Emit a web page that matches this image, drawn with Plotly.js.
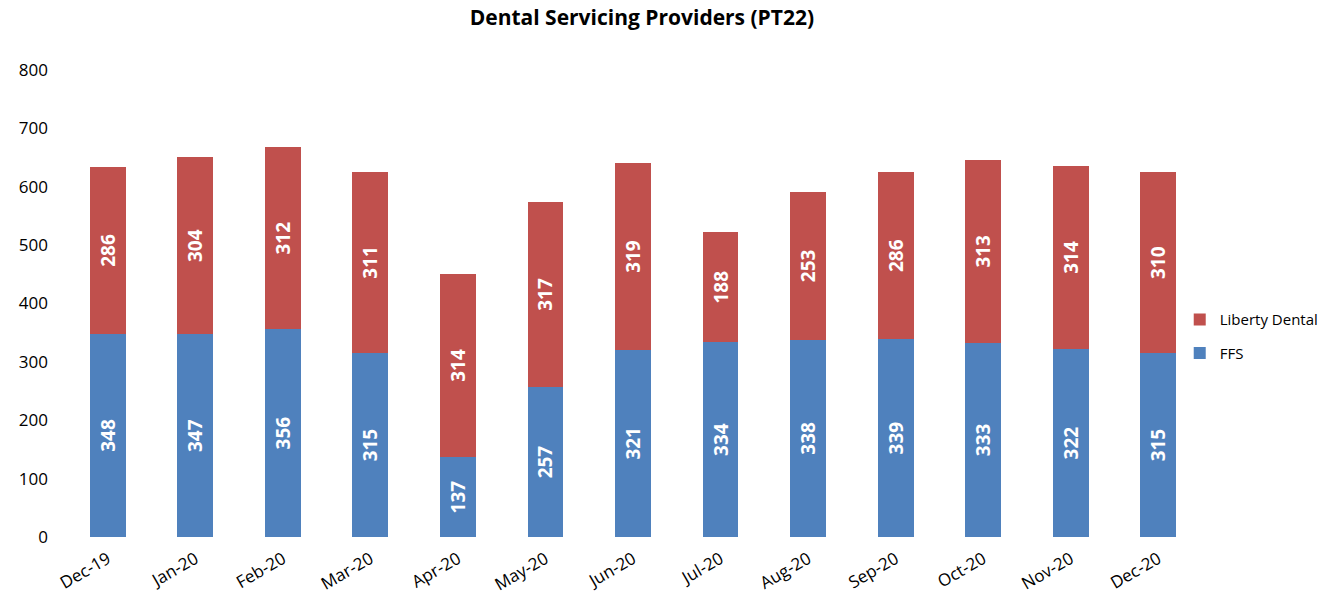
<!DOCTYPE html>
<html>
<head>
<meta charset="utf-8">
<script src="https://cdn.plot.ly/plotly-3.0.1.min.js"></script>
<style>html,body{margin:0;padding:0;background:#fff;}#chart{width:1329px;height:600px;}</style>
</head>
<body>
<div id="chart"></div>
<script>
var months = ["Dec-19","Jan-20","Feb-20","Mar-20","Apr-20","May-20","Jun-20","Jul-20","Aug-20","Sep-20","Oct-20","Nov-20","Dec-20"];
var ffs = [348,347,356,315,137,257,321,334,338,339,333,322,315];
var liberty = [286,304,312,311,314,317,319,188,253,286,313,314,310];
var yTicks = [0,100,200,300,400,500,600,700,800];

var font = "Open Sans, Liberation Sans, sans-serif";
var labelFont = {family: font, size: 19, color: "#ffffff", weight: "bold"};

var traces = [
  {
    type: "bar", name: "FFS", x: months, y: ffs, legendgroup: "ffs", legendrank: 2,
    marker: {color: "#4F81BD"},
    text: ffs.map(String), textposition: "inside", textangle: -90,
    insidetextanchor: "middle", constraintext: "none",
    insidetextfont: labelFont, hoverinfo: "x+y+name"
  },
  {
    type: "bar", name: "Liberty Dental", x: months, y: liberty, legendgroup: "liberty", legendrank: 1,
    marker: {color: "#C0504D"},
    text: liberty.map(String), textposition: "inside", textangle: -90,
    insidetextanchor: "middle", constraintext: "none",
    insidetextfont: labelFont, hoverinfo: "x+y+name"
  }
];

var layout = {
  width: 1329, height: 600,
  barmode: "stack", bargap: 0.59,
  paper_bgcolor: "#ffffff", plot_bgcolor: "#ffffff",
  margin: {l: 64, r: 0, t: 70, b: 63},
  font: {family: font, size: 16, color: "#000000"},
  title: {text: "<b>Dental Servicing Providers (PT22)</b>", x: 0.483, xref: "container", xanchor: "center", y: 0.97, yanchor: "middle",
          font: {family: font, size: 21, color: "#000000"}},
  xaxis: {type: "category", domain: [0, 0.8996], tickangle: -30, showgrid: false, showline: false, zeroline: false,
          ticks: "", tickfont: {family: font, size: 17}, ticklabelstandoff: 8, automargin: false},
  yaxis: {range: [0, 800], tickvals: yTicks, showgrid: false, showline: false, zeroline: false,
          ticks: "", tickfont: {family: font, size: 17}, ticklabelstandoff: 15, automargin: false},
  legend: {x: 0.882, xanchor: "left", y: 0.43, yanchor: "middle", traceorder: "grouped",
           font: {family: font, size: 15}, itemwidth: 30, tracegroupgap: 11, bgcolor: "rgba(0,0,0,0)"},
  showlegend: true
};

Plotly.newPlot("chart", traces, layout, {displayModeBar: false, staticPlot: true});
</script>
</body>
</html>
